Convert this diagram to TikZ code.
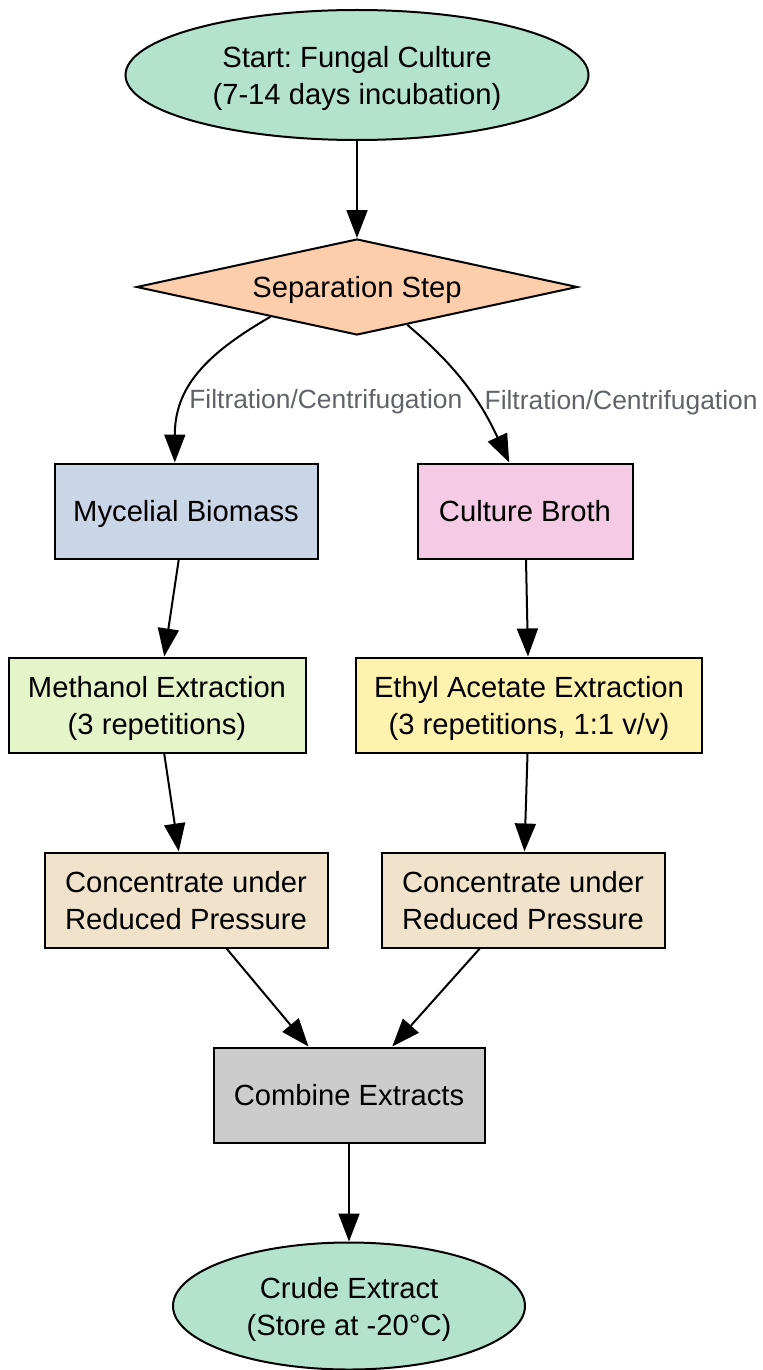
\documentclass[tikz,border=0pt]{standalone}
\usepackage{fontspec}
\setmainfont{Liberation Sans}
\usetikzlibrary{shapes.geometric,arrows.meta}
\frenchspacing

\definecolor{startgreen}{HTML}{B3E2CD}
\definecolor{sepfill}{HTML}{FDCDAC}
\definecolor{biofill}{HTML}{CBD5E8}
\definecolor{brothfill}{HTML}{F4CAE4}
\definecolor{methfill}{HTML}{E6F5C9}
\definecolor{ethylfill}{HTML}{FFF2AE}
\definecolor{concfill}{HTML}{F1E2CC}
\definecolor{combfill}{HTML}{CCCCCC}
\definecolor{labelgray}{HTML}{5F6368}

\tikzset{
  stepbox/.style={rectangle,draw,line width=1pt,minimum height=47.5pt,inner sep=0pt,align=center,text depth=0pt},
  endpoint/.style={ellipse,draw,line width=1pt,fill=startgreen,inner sep=0pt,align=center,text depth=0pt},
  flow/.style={line width=1pt,-{Triangle[length=14pt,width=10.5pt]}},
}

\begin{document}
\begin{tikzpicture}[x=0.5pt,y=-0.5pt,font=\fontsize{14.6}{18.5}\selectfont]

        \useasboundingbox (0,0) rectangle (763,1370);

        \node[endpoint,minimum width=231.5pt,minimum height=65pt] (start) at (357,75)
          {Start: Fungal Culture\\(7-14 days incubation)};
        \node[diamond,draw,line width=1pt,fill=sepfill,aspect=4.6,inner sep=0pt,text depth=0pt,
              minimum width=220.5pt,minimum height=48pt] (sep) at (357,287) {Separation Step};

        \begin{scope}[every node/.style={stepbox}]
          \node[fill=biofill,minimum width=131.5pt]   (bio)   at (186,511)  {Mycelial Biomass};
          \node[fill=brothfill,minimum width=107.5pt] (broth) at (525,511)  {Culture Broth};
          \node[fill=methfill,minimum width=148.5pt]  (meth)  at (157,705)  {Methanol Extraction\\(3 repetitions)};
          \node[fill=ethylfill,minimum width=173pt]   (ethyl) at (529,705)  {Ethyl Acetate Extraction\\(3 repetitions, 1:1 v/v)};
          \node[fill=concfill,minimum width=141.5pt]  (concl) at (186,900)  {Concentrate under\\Reduced Pressure};
          \node[fill=concfill,minimum width=141.5pt]  (concr) at (523,900)  {Concentrate under\\Reduced Pressure};
          \node[fill=combfill,minimum width=135.5pt]  (comb)  at (349,1095) {Combine Extracts};
        \end{scope}

        \node[endpoint,minimum width=176pt,minimum height=63.5pt] (crude) at (349,1306)
          {Crude Extract\\(Store at -20°C)};

        \begin{scope}[every node/.style={text=labelgray,font=\fontsize{13.2}{16}\selectfont,inner sep=3pt}]
          \begin{scope}[every edge/.style={draw,flow}]
            \path (start)     edge (sep);
            \path (sep.-161)  edge[out=-150,in=90,looseness=1.1] node[pos=.68,right,inner sep=2pt] {Filtration/Centrifugation} (bio.103);
            \path (sep.-37)   edge[out=-40,in=115] node[pos=.62,right] {Filtration/Centrifugation} (broth.108);
            \path (bio)       edge (meth);
            \path (broth)     edge (ethyl);
            \path (meth)      edge (concl);
            \path (ethyl)     edge (concr);
            \path (concl)     edge (comb);
            \path (concr)     edge (comb);
            \path (comb)      edge (crude);
          \end{scope}
        \end{scope}

      \end{tikzpicture}
\end{document}
